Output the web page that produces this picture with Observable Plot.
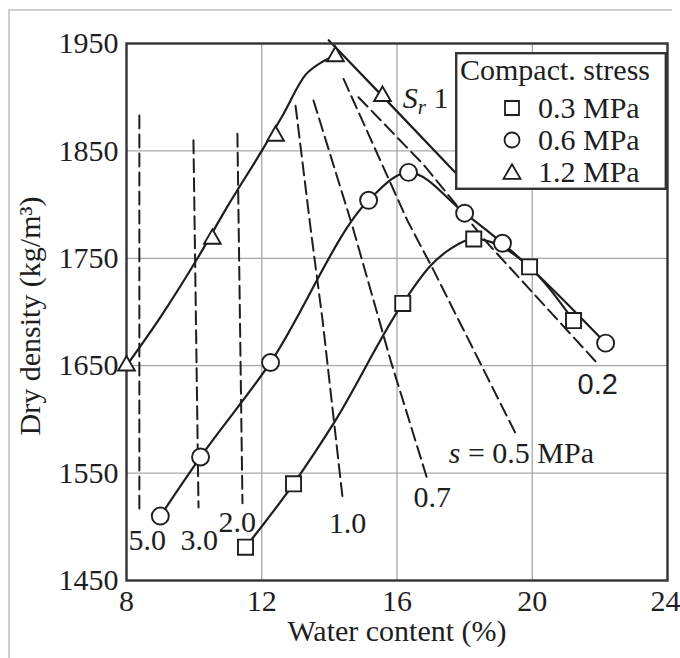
<!DOCTYPE html>
<html><head><meta charset="utf-8">
<script src="https://cdn.jsdelivr.net/npm/d3@7"></script>
<script src="https://cdn.jsdelivr.net/npm/@observablehq/plot@0.6"></script>
<style>
body{margin:0;background:#fff;}
#wrap{position:relative;width:680px;height:658px;overflow:hidden;background:#fff;}
#border{position:absolute;left:8px;top:9px;width:662px;height:700px;border-top:2px solid #cfcfcf;border-left:2px solid #cfcfcf;}
#legend{position:absolute;left:455px;top:52px;}
</style></head><body><div id="wrap"><div id="border"></div></div>
<script>
// ---- axes ----
const xTicks = [8, 12, 16, 20, 24];
const yTicks = [1450, 1550, 1650, 1750, 1850, 1950];
const gridXVals = [12, 16, 20];
const gridYVals = [1550, 1650, 1750, 1850];
const xLabel = "Water content (%)";
const yLabel = "Dry density (kg/m³)";

// ---- measured points (markers) ----
const w03 = [11.52, 12.94, 16.17, 18.27, 19.92, 21.22];
const d03 = [1481, 1540, 1708, 1768, 1742, 1692];
const w06 = [9.0, 10.19, 12.26, 15.16, 16.34, 18.0, 19.12, 22.17];
const d06 = [1510, 1565, 1653, 1804, 1830, 1792, 1764, 1671];
const w12 = [8.0, 10.54, 12.41, 14.18, 15.57];
const d12 = [1650, 1768, 1864, 1938, 1901];

// ---- compaction curves (knots) ----
const cw03 = [11.52, 12.94, 14.12, 16.17, 16.99, 17.59, 18.27, 19.92, 21.22];
const cd03 = [1481, 1540, 1596, 1708, 1743, 1759, 1768, 1742, 1692];
const cw06 = [9.0, 10.19, 12.26, 15.16, 16.34, 18.0, 19.12, 22.17];
const cd06 = [1510, 1565, 1653, 1804, 1830, 1792, 1764, 1671];
const cw12 = [8.0, 9.0, 10.1, 11.0, 12.0, 12.6, 13.3, 13.74, 14.18];
const cd12 = [1650, 1695, 1750, 1799, 1850, 1882, 1921, 1932, 1938];

// ---- saturation line Sr = 1 ----
const srW = [13.98, 15.57, 17.9];
const srD = [1953, 1901, 1824];

// ---- suction contours (dashed) ----
const suctions = ["5.0", "3.0", "2.0", "1.0", "0.7", "0.5", "0.2"];
const sW = [
  [8.38, 8.38],
  [9.98, 10.13],
  [11.28, 11.43],
  [13.0, 13.44, 13.80, 14.39],
  [13.53, 14.69, 15.81, 16.91],
  [14.42, 16.31, 17.08, 19.57],
  [14.86, 16.79, 18.68, 21.93]
];
const sD = [
  [1883, 1515],
  [1860, 1518],
  [1866, 1522],
  [1892, 1779, 1692, 1527],
  [1897, 1779, 1655, 1543],
  [1917, 1785, 1739, 1583],
  [1900, 1837, 1764, 1652]
];

// ---- annotation labels ----
const labText = ["5.0", "3.0", "2.0", "1.0", "0.7", "s = 0.5 MPa", "Sr 1"];
const labW = [8.06, 9.60, 10.72, 13.98, 16.49, 17.53, 16.17];
const labD = [1478, 1478, 1494.7, 1493.8, 1518, 1559, 1890];
const lab02Text = ["0.2"];
const lab02W = [21.34];
const lab02D = [1624];

// ---- legend ----
const legendTitle = "Compact. stress";
const legendItems = ["0.3 MPa", "0.6 MPa", "1.2 MPa"];
const legendSymbols = ["square", "circle", "triangle"];

// ---- build tables ----
const pts = (w, d) => w.map((x, i) => ({w: x, d: d[i]}));
const dashed = suctions.flatMap((s, k) => sW[k].map((x, i) => ({s, w: x, d: sD[k][i]})));
const labs = labText.map((t, i) => ({t, w: labW[i], d: labD[i]}));
const labs02 = lab02Text.map((t, i) => ({t, w: lab02W[i], d: lab02D[i]}));

const ink = "#1e1e1e";
const serif = "'Liberation Serif', 'Times New Roman', serif";

const chart = Plot.plot({
  width: 680,
  height: 658,
  marginLeft: 126,
  marginRight: 13,
  marginTop: 43,
  marginBottom: 78,
  style: {fontFamily: serif, fontSize: "30px", color: ink, background: "transparent", overflow: "visible"},
  x: {domain: [8, 24], ticks: xTicks, tickSize: 0, tickPadding: 9, tickFormat: "d", label: null},
  y: {domain: [1450, 1950], ticks: yTicks, tickSize: 0, tickPadding: 8, tickFormat: "d", label: null},
  marks: [
    Plot.ruleX(gridXVals, {stroke: "#a8a8a8", strokeWidth: 1.3}),
    Plot.ruleY(gridYVals, {stroke: "#a8a8a8", strokeWidth: 1.3}),
    Plot.line(dashed, {x: "w", y: "d", z: "s", stroke: ink, strokeWidth: 2, strokeDasharray: "13,6"}),
    Plot.line(pts(srW, srD), {x: "w", y: "d", stroke: ink, strokeWidth: 2.2}),
    Plot.line(pts(cw12, cd12), {x: "w", y: "d", stroke: ink, strokeWidth: 2.2, curve: "monotone-x"}),
    Plot.line(pts(cw06, cd06), {x: "w", y: "d", stroke: ink, strokeWidth: 2.2, curve: "monotone-x"}),
    Plot.line(pts(cw03, cd03), {x: "w", y: "d", stroke: ink, strokeWidth: 2.2, curve: "monotone-x"}),
    Plot.frame({stroke: "#333", strokeWidth: 2.4}),
    Plot.dot(pts(w03, d03), {x: "w", y: "d", symbol: "square", r: 8.5, fill: "white", stroke: ink, strokeWidth: 1.9}),
    Plot.dot(pts(w06, d06), {x: "w", y: "d", symbol: "circle", r: 8.5, fill: "white", stroke: ink, strokeWidth: 1.9}),
    Plot.dot(pts(w12, d12), {x: "w", y: "d", symbol: "triangle", r: 6.2, fill: "white", stroke: ink, strokeWidth: 1.9}),
    Plot.text(labs, {x: "w", y: "d", text: "t", textAnchor: "start", lineAnchor: "bottom", fontSize: 30, fill: ink}),
    Plot.text(labs02, {x: "w", y: "d", text: "t", textAnchor: "start", lineAnchor: "bottom", fontSize: 29, fill: ink, fontFamily: "'Liberation Sans', Arial, sans-serif"}),
    Plot.text([xLabel], {frameAnchor: "bottom", dy: 60, lineAnchor: "bottom", fontSize: 30, fill: ink}),
    Plot.text([yLabel], {frameAnchor: "left", rotate: -90, dx: -96, dy: 4, lineAnchor: "middle", textAnchor: "middle", fontSize: 30, fill: ink})
  ]
});

// italic / subscript touches on annotation text
d3.select(chart).selectAll("text").each(function () {
  const t = this.textContent;
  if (t === "Sr 1") {
    const sel = d3.select(this).text(null);
    sel.append("tspan").attr("font-style", "italic").text("S");
    sel.append("tspan").attr("font-style", "italic").attr("font-size", 21).attr("dy", 6).text("r");
    sel.append("tspan").attr("dy", -6).text(" 1");
  } else if (t === "s = 0.5 MPa") {
    const sel = d3.select(this).text(null);
    sel.append("tspan").attr("font-style", "italic").text("s");
    sel.append("tspan").text(" = 0.5 MPa");
  } else if (t === "24") {
    d3.select(this).attr("text-anchor", "end").attr("dx", 13);
  }
});

document.getElementById("wrap").appendChild(chart);

// legend (HTML overlay with inline SVG)
const lw = 212, lh = 138;
const leg = d3.create("svg").attr("id", "legend").attr("width", lw).attr("height", lh)
  .style("position", "absolute").style("left", "455px").style("top", "52px")
  .attr("font-family", serif).attr("font-size", 30).attr("fill", ink);
leg.append("rect").attr("x", 1.2).attr("y", 1.2).attr("width", lw - 2.4).attr("height", lh - 2.4)
  .attr("fill", "white").attr("stroke", "#333").attr("stroke-width", 2.4);
leg.append("text").attr("x", 5).attr("y", 28).text(legendTitle);
const symMap = {square: [d3.symbolSquare, 196], circle: [d3.symbolCircle, 177], triangle: [d3.symbolTriangle, 125]};
legendItems.forEach((lab, i) => {
  const cy = 56 + i * 32;
  const [sym, size] = symMap[legendSymbols[i]];
  leg.append("path").attr("d", d3.symbol(sym, size)()).attr("transform", `translate(57,${cy + (legendSymbols[i] === "triangle" ? 2 : 0)})`)
    .attr("fill", "white").attr("stroke", ink).attr("stroke-width", 1.8);
  leg.append("text").attr("x", 83).attr("y", cy + 10).text(lab);
});
document.getElementById("wrap").appendChild(leg.node());
</script>
</body></html>
